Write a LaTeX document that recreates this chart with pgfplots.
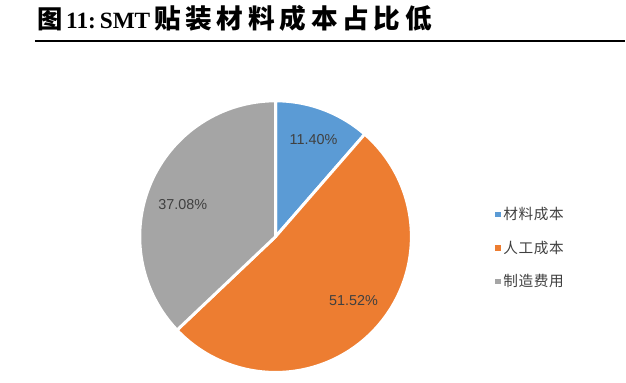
\documentclass[border=0pt]{standalone}
\usepackage{fontspec}
\setmainfont{Liberation Sans}
\newfontfamily\cjk{Noto Sans CJK SC}
\newfontfamily\cjkleg[LetterSpace=4]{Noto Sans CJK SC}
\newfontfamily\cjktitle[LetterSpace=18]{Noto Sans CJK SC}
\newfontfamily\tnr{Liberation Serif}
\usepackage{pgfplots}
\pgfplotsset{compat=1.18}
\definecolor{cBlue}{HTML}{5B9BD5}
\definecolor{cOrange}{HTML}{ED7D31}
\definecolor{cGray}{HTML}{A5A5A5}
\definecolor{cText}{HTML}{404040}
\begin{document}
\begin{tikzpicture}
% shares (percent)
\pgfmathsetmacro{\vA}{11.40}
\pgfmathsetmacro{\vB}{51.52}
\pgfmathsetmacro{\vC}{37.08}
\pgfmathsetmacro{\aA}{90}
\pgfmathsetmacro{\aB}{\aA-3.6*\vA}
\pgfmathsetmacro{\aC}{\aB-3.6*\vB}
\pgfmathsetmacro{\aD}{\aC-3.6*\vC}
\begin{axis}[
  x=0.75pt, y=0.75pt,
  xmin=0, xmax=626, ymin=0, ymax=383,
  hide axis, clip=false,
  legend style={at={(axis cs:492,181)}, anchor=north west, draw=none, fill=none,
    font=\cjkleg\fontsize{11}{12}\selectfont, row sep=10.5pt,
    text=cText},
  legend cell align=left,
  legend image code/.code={\fill[#1,draw=none] (0pt,-2pt) rectangle (4pt,2pt);},
]
\path (axis cs:0,0) rectangle (axis cs:626,383);
\addplot[fill=cBlue, draw=white, line width=2.2pt, domain=\aB:\aA, samples=60, variable=\t]
  ({276+136*cos(\t)},{146+136*sin(\t)}) -- (axis cs:276,146) -- cycle;
\addlegendentry{材料成本}
\addplot[fill=cOrange, draw=white, line width=2.2pt, domain=\aC:\aB, samples=120, variable=\t]
  ({276+136*cos(\t)},{146+136*sin(\t)}) -- (axis cs:276,146) -- cycle;
\addlegendentry{人工成本}
\addplot[fill=cGray, draw=white, line width=2.2pt, domain=\aD:\aC, samples=100, variable=\t]
  ({276+136*cos(\t)},{146+136*sin(\t)}) -- (axis cs:276,146) -- cycle;
\addlegendentry{制造费用}
% data labels
\node[font=\fontsize{10.8}{12}\selectfont, text=cText] at (axis cs:314,243) {11.40\%};
\node[font=\fontsize{10.8}{12}\selectfont, text=cText] at (axis cs:354,82) {51.52\%};
\node[font=\fontsize{10.8}{12}\selectfont, text=cText] at (axis cs:183,178) {37.08\%};
% title
\node[anchor=base west, inner sep=0pt] at (axis cs:37,354) {\cjk\bfseries\fontsize{19}{20}\selectfont 图};
\node[anchor=base west, inner sep=0pt] at (axis cs:66,354) {\tnr\bfseries\fontsize{17.5}{20}\selectfont 11:\,SMT};
\node[anchor=base west, inner sep=0pt] at (axis cs:154,354) {\cjktitle\bfseries\fontsize{20}{22}\selectfont 贴装材料成本占比低};
\draw[line width=1.5pt] (axis cs:35,342) -- (axis cs:626,342);
\end{axis}
\end{tikzpicture}
\end{document}
